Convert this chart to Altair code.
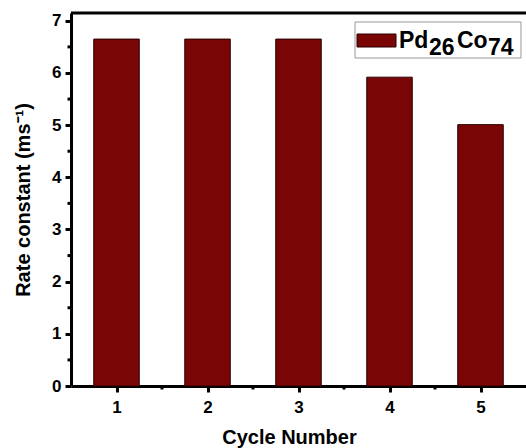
import altair as alt
import pandas as pd

cycles = [1, 2, 3, 4, 5]
rates = [6.65, 6.65, 6.65, 5.92, 5.01]
y_ticks = [0, 1, 2, 3, 4, 5, 6, 7]
y_minor = [0.5, 1.5, 2.5, 3.5, 4.5, 5.5, 6.5]
x_minor = [1.5, 2.5, 3.5, 4.5]
legend_parts = ["Pd", "26", "Co", "74"]

W, H = 455, 373
FONT = "Liberation Sans"
BAR_COLOR = "#7a0505"

df = pd.DataFrame({"cycle": cycles, "rate": rates})

xs = alt.Scale(domain=[0.5, 5.5], nice=False, zero=False)
ys = alt.Scale(domain=[0, 7.15], nice=False)

bars = alt.Chart(df).transform_calculate(
    x0="datum.cycle - 0.25", x1="datum.cycle + 0.25"
).mark_bar(color=BAR_COLOR, stroke="#2a0000", strokeWidth=1).encode(
    x=alt.X("x0:Q", scale=xs, axis=alt.Axis(
        values=cycles, format="d", title="Cycle Number", grid=False, tickSize=6, tickWidth=3,
        domainWidth=3, domainColor="black", tickColor="black",
        labelFont=FONT, labelFontSize=17, labelFontWeight="bold", labelColor="black",
        labelPadding=7, titleFont=FONT, titleFontSize=20, titleFontWeight="bold",
        titleColor="black", titlePadding=12, titleX=218, labelFlush=False)),
    x2="x1:Q",
    y=alt.Y("rate:Q", scale=ys, axis=alt.Axis(
        values=y_ticks, format="d", title="Rate constant (ms\u207b\u00b9)", grid=False, tickSize=6,
        tickWidth=3, domainWidth=3, domainColor="black", tickColor="black",
        labelFont=FONT, labelFontSize=17, labelFontWeight="bold", labelColor="black",
        labelPadding=4, titleFont=FONT, titleFontSize=20, titleFontWeight="bold",
        titleColor="black", titlePadding=18, labelFlush=False)),
    y2=alt.datum(0),
)

ymin = alt.Chart(pd.DataFrame({"v": y_minor})).mark_rule(
    color="black", strokeWidth=3).encode(
    y=alt.Y("v:Q", scale=ys), x=alt.value(-3.5), x2=alt.value(0))

xmin = alt.Chart(pd.DataFrame({"v": x_minor})).mark_rule(
    color="black", strokeWidth=3).encode(
    x=alt.X("v:Q", scale=xs), y=alt.value(H), y2=alt.value(H + 3.5))

top = alt.Chart(pd.DataFrame({"a": [0]})).mark_rule(
    color="black", strokeWidth=3).encode(
    x=alt.value(0), x2=alt.value(W), y=alt.value(0))

box = alt.Chart(pd.DataFrame({"a": [0]})).mark_rect(
    fill="white", stroke="#999999", strokeWidth=1).encode(
    x=alt.value(284), x2=alt.value(450), y=alt.value(9), y2=alt.value(45))

swatch = alt.Chart(pd.DataFrame({"a": [0]})).mark_rect(
    fill=BAR_COLOR, stroke="#2a0000", strokeWidth=1).encode(
    x=alt.value(286), x2=alt.value(325), y=alt.value(21), y2=alt.value(34))

leg_df = pd.DataFrame({
    "t": legend_parts,
    "px": [328, 358, 386, 417],
    "py": [35, 42, 35, 42],
})
leg_text = alt.Chart(leg_df).mark_text(
    font=FONT, fontSize=23, fontWeight="bold", align="left",
    baseline="alphabetic", color="black").encode(
    text="t:N", x=alt.X("px:Q", scale=None), y=alt.Y("py:Q", scale=None))

chart = alt.layer(bars, ymin, xmin, top, box, swatch, leg_text).properties(
    width=W, height=H,
    autosize=alt.AutoSizeParams(type="none"),
    padding={"left": 71, "top": 13, "right": 0, "bottom": 62},
    background="white",
).configure_view(stroke=None)

chart.save("out.html", embed_options={"renderer": "svg", "actions": False})
